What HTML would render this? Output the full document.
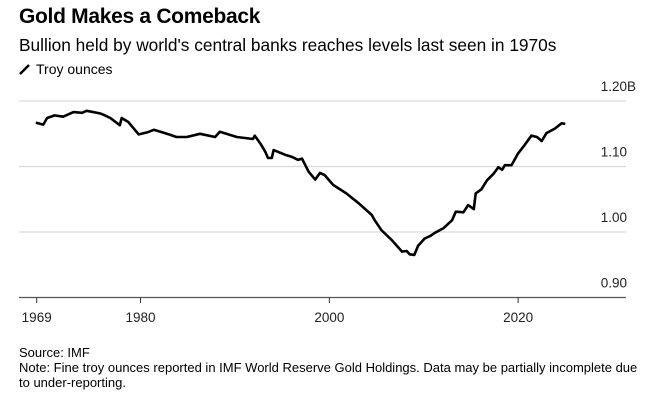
<!DOCTYPE html>
<html><head><meta charset="utf-8"><style>
body{margin:0;width:665px;height:404px;background:#fff;font-family:"Liberation Sans",sans-serif;color:#000;overflow:hidden;position:relative}
.t{position:absolute;white-space:nowrap}
</style></head><body>
<div class="t" style="left:19px;top:5px;font-size:21px;font-weight:bold;letter-spacing:-0.3px">Gold Makes a Comeback</div>
<div class="t" style="left:19px;top:35px;font-size:17.3px">Bullion held by world's central banks reaches levels last seen in 1970s</div>
<div class="t" style="left:19px;top:61px;font-size:14px"><svg width="12" height="12" style="vertical-align:-1px;margin-right:5px"><line x1="1" y1="11" x2="10" y2="2" stroke="#000" stroke-width="2.5"/></svg>Troy ounces</div>
<svg id="chart" width="665" height="404" style="position:absolute;left:0;top:0"></svg>
<div class="t" style="left:19px;top:345px;font-size:13px">Source: IMF</div>
<div class="t" style="left:19px;top:360px;font-size:13px;line-height:15px">Note: Fine troy ounces reported in IMF World Reserve Gold Holdings. Data may be partially incomplete due<br>to under-reporting.</div>
<script>
const years=[1968.9,1969.7,1970.1,1970.9,1971.8,1972.9,1973.8,1974.3,1975.7,1976.1,1976.8,1977.8,1978.0,1978.7,1979.8,1980.7,1981.4,1982.1,1983.0,1983.8,1984.9,1986.3,1987.9,1988.4,1990.2,1991.9,1992.1,1992.7,1993.2,1993.5,1993.9,1994.1,1995.3,1996.0,1996.7,1997.1,1997.8,1998.5,1999.0,1999.5,2000.1,2000.4,2001.8,2003.1,2004.5,2004.8,2005.5,2006.6,2007.7,2008.2,2008.5,2009.0,2009.4,2010.1,2010.7,2011.2,2012.1,2013.0,2013.4,2014.2,2014.7,2015.3,2015.5,2016.1,2016.7,2017.4,2017.9,2018.3,2018.6,2019.3,2020.0,2020.7,2021.4,2022.0,2022.5,2023.0,2023.9,2024.6,2025.0];
const ounces=[1.167,1.164,1.174,1.178,1.176,1.183,1.182,1.185,1.181,1.179,1.174,1.163,1.174,1.168,1.149,1.152,1.156,1.153,1.149,1.145,1.145,1.150,1.145,1.153,1.145,1.142,1.147,1.135,1.123,1.113,1.113,1.125,1.118,1.115,1.110,1.112,1.092,1.080,1.090,1.087,1.077,1.072,1.059,1.044,1.026,1.018,1.003,0.988,0.970,0.971,0.966,0.965,0.979,0.990,0.994,0.999,1.006,1.018,1.031,1.030,1.041,1.035,1.059,1.065,1.079,1.089,1.099,1.095,1.102,1.102,1.120,1.133,1.147,1.145,1.139,1.151,1.158,1.166,1.165];
const yTicks=[1.20,1.10,1.00,0.90];
const yTickLabels=["1.20B","1.10","1.00","0.90"];
const xTicks=[1969,1980,2000,2020];
const xTickLabels=["1969","1980","2000","2020"];
const NS="http://www.w3.org/2000/svg";
const svg=document.getElementById('chart');
const xs=y=>36.7+(y-1969)*9.44;
const ys=v=>101+(1.20-v)*655;
function mk(tag,attrs){const e=document.createElementNS(NS,tag);for(const k in attrs)e.setAttribute(k,attrs[k]);svg.appendChild(e);return e;}
yTicks.forEach((v,i)=>{
  if(i<yTicks.length-1){const g=mk('line',{x1:19,x2:626,y1:ys(v),y2:ys(v),stroke:'#d9d9d9','stroke-width':1.2});
  
  }
  const t=mk('text',{x:627,y:ys(v)-10,'text-anchor':'end','font-size':13.5,fill:'#222','font-family':'Liberation Sans, sans-serif'});
  t.textContent=yTickLabels[i];
  if(i===0){t.setAttribute('x',636);}
  
  
});
const ax=mk('line',{x1:19,x2:626,y1:297.5,y2:297.5,stroke:'#555','stroke-width':1.2});


xTicks.forEach((y,i)=>{
  const tk=mk('line',{x1:xs(y),x2:xs(y),y1:297.5,y2:303,stroke:'#333','stroke-width':1});
  
  
  const t=mk('text',{x:xs(y),y:322,'text-anchor':'middle','font-size':13.5,fill:'#222','font-family':'Liberation Sans, sans-serif'});
  t.textContent=xTickLabels[i];
  
  
});
const d=years.map((y,i)=>(i?'L':'M')+xs(y).toFixed(1)+','+ys(ounces[i]).toFixed(1)).join(' ');
const p=mk('path',{d:d,fill:'none',stroke:'#000','stroke-width':2.6,'stroke-linejoin':'round'});


</script>
</body></html>
